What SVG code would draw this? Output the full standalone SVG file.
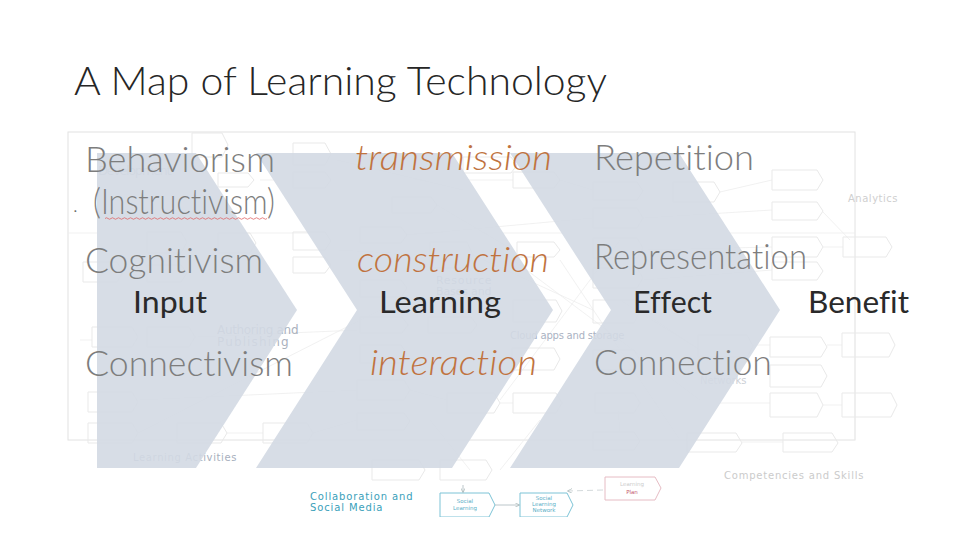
<svg xmlns="http://www.w3.org/2000/svg" width="960" height="540" viewBox="0 0 960 540">
<defs>
<style>
text{font-variant-ligatures:none}
.bx{fill:none;stroke:#e9e9e9;stroke-width:1}
.ln{fill:none;stroke:#ededed;stroke-width:0.8}
.chev{fill:#d3d9e3;opacity:0.9}
.big{font-family:Lato,"Open Sans","Liberation Sans",sans-serif;font-size:36px;font-weight:300}
.gray{fill:#7d7d7d}
.org{fill:#c0733f;font-style:italic}
.lab{font-family:Lato,"Open Sans","Liberation Sans",sans-serif;font-size:30px;fill:#2a2a2a}
.faint{font-family:"DejaVu Sans","Liberation Sans",sans-serif;font-size:10px;letter-spacing:0.5px}
.tiny{font-family:"DejaVu Sans","Liberation Sans",sans-serif;font-size:5.5px;text-anchor:middle}
</style>
<marker id="ah" viewBox="0 0 8 8" refX="7" refY="4" markerWidth="6" markerHeight="6" orient="auto"><path d="M0,0 L8,4 L0,8" fill="none" stroke="#9aa" stroke-width="1"/></marker>
<clipPath id="mapclip"><rect x="60" y="128" width="850" height="389"/></clipPath>
</defs>
<rect width="960" height="540" fill="#ffffff"/>
<g id="title"><text x="74" y="95" font-family="Lato,'Open Sans','Liberation Sans',sans-serif" font-size="40" font-weight="300" fill="#262626" textLength="533" lengthAdjust="spacingAndGlyphs">A Map of Learning Technology</text></g>

<g id="map-background" clip-path="url(#mapclip)">
<rect x="68" y="132" width="787" height="308" fill="none" stroke="#e2e2e2"/>
<line x1="68" y1="233" x2="855" y2="233" class="ln"/>
<g id="map-lines">
<path class="ln" d="M337,160 L463,190 M337,180 L513,180 M260,180 L293,180 M437,205 L513,250 M407,235 L593,218 M560,180 L593,190 M643,190 L673,190 M643,218 L772,210 M720,192 L772,180 M643,250 L772,247 M823,247 L843,247 M823,212 L850,240 M643,280 L772,270 M473,255 L593,310 M500,250 L700,400 M560,260 L680,440 M620,240 L500,400 M195,337 L360,330 M138,400 L360,390 M138,433 L400,300 M227,433 L263,433 M313,433 L357,420 M410,390 L447,400 M500,403 L513,403 M562,403 L595,403 M640,403 L770,403 M640,440 L687,440 M742,442 L783,442 M823,405 L842,405 M618,410 L620,432 M430,420 L470,470 M540,420 L500,470 M700,350 L620,300 M753,345 L770,345 M827,345 L842,345 M855,280 L855,440 M640,310 L700,350 M337,250 L430,255 M408,325 L428,325 M92,340 L80,340"/>
</g>
<g id="map-boxes">
<path class="bx" d="M192,133 h30 l6,12 l-6,12 h-30 z"/>
<path class="bx" d="M293,143 h32 l6,11 l-6,11 h-32 z"/>
<path class="bx" d="M293,172 h32 l6,8 l-6,8 h-32 z"/>
<path class="bx" d="M218,173 h30 l6,7 l-6,7 h-30 z"/>
<path class="bx" d="M147,232 h34 l6,10 l-6,11 h-34 z"/>
<path class="bx" d="M218,233 h32 l6,10 l-6,10 h-32 z"/>
<path class="bx" d="M293,232 h32 l6,9 l-6,9 h-32 z"/>
<path class="bx" d="M147,265 h34 l6,8 l-6,9 h-34 z"/>
<path class="bx" d="M293,257 h32 l6,8 l-6,8 h-32 z"/>
<path class="bx" d="M83,262 h34 l6,10 l-6,10 h-34 z"/>
<path class="bx" d="M392,197 h39 l6,8 l-6,8 h-39 z"/>
<path class="bx" d="M360,227 h41 l6,8 l-6,8 h-41 z"/>
<path class="bx" d="M513,172 h41 l6,8 l-6,8 h-41 z"/>
<path class="bx" d="M517,242 h37 l6,8 l-6,7 h-37 z"/>
<path class="bx" d="M430,242 h37 l6,13 l-6,13 h-37 z"/>
<path class="bx" d="M463,157 h48 l6,8 l-6,8 h-48 z"/>
<path class="bx" d="M593,182 h44 l6,9 l-6,9 h-44 z"/>
<path class="bx" d="M593,208 h44 l6,10 l-6,10 h-44 z"/>
<path class="bx" d="M593,238 h44 l6,10 l-6,10 h-44 z"/>
<path class="bx" d="M593,268 h44 l6,10 l-6,10 h-44 z"/>
<path class="bx" d="M673,182 h41 l6,10 l-6,10 h-41 z"/>
<path class="bx" d="M772,170 h45 l6,10 l-6,10 h-45 z"/>
<path class="bx" d="M772,202 h45 l6,9 l-6,9 h-45 z"/>
<path class="bx" d="M772,237 h45 l6,10 l-6,10 h-45 z"/>
<path class="bx" d="M843,237 h43 l6,10 l-6,10 h-43 z"/>
<path class="bx" d="M772,262 h45 l6,9 l-6,9 h-45 z"/>
<path class="bx" d="M92,327 h40 l6,10 l-6,10 h-40 z"/>
<path class="bx" d="M147,327 h42 l6,10 l-6,10 h-42 z"/>
<path class="bx" d="M88,392 h44 l6,10 l-6,10 h-44 z"/>
<path class="bx" d="M88,423 h44 l6,10 l-6,10 h-44 z"/>
<path class="bx" d="M177,423 h44 l6,10 l-6,10 h-44 z"/>
<path class="bx" d="M263,423 h44 l6,10 l-6,10 h-44 z"/>
<path class="bx" d="M360,280 h41 l6,8 l-6,9 h-41 z"/>
<path class="bx" d="M360,317 h42 l6,8 l-6,8 h-42 z"/>
<path class="bx" d="M428,317 h43 l6,8 l-6,8 h-43 z"/>
<path class="bx" d="M360,345 h41 l6,9 l-6,9 h-41 z"/>
<path class="bx" d="M357,380 h47 l6,10 l-6,10 h-47 z"/>
<path class="bx" d="M357,413 h47 l6,8 l-6,9 h-47 z"/>
<path class="bx" d="M447,393 h47 l6,10 l-6,10 h-47 z"/>
<path class="bx" d="M513,300 h43 l6,11 l-6,11 h-43 z"/>
<path class="bx" d="M512,348 h42 l6,11 l-6,11 h-42 z"/>
<path class="bx" d="M513,393 h43 l6,10 l-6,10 h-43 z"/>
<path class="bx" d="M593,300 h41 l6,11 l-6,12 h-41 z"/>
<path class="bx" d="M593,350 h41 l6,10 l-6,10 h-41 z"/>
<path class="bx" d="M595,393 h39 l6,10 l-6,10 h-39 z"/>
<path class="bx" d="M593,432 h41 l6,9 l-6,9 h-41 z"/>
<path class="bx" d="M372,460 h47 l6,10 l-6,10 h-47 z"/>
<path class="bx" d="M440,460 h46 l6,10 l-6,10 h-46 z"/>
<path class="bx" d="M698,335 h49 l6,11 l-6,11 h-49 z"/>
<path class="bx" d="M770,337 h51 l6,10 l-6,10 h-51 z"/>
<path class="bx" d="M842,333 h47 l6,12 l-6,12 h-47 z"/>
<path class="bx" d="M770,365 h51 l6,11 l-6,11 h-51 z"/>
<path class="bx" d="M770,393 h47 l6,12 l-6,12 h-47 z"/>
<path class="bx" d="M842,393 h49 l6,12 l-6,12 h-49 z"/>
<path class="bx" d="M687,433 h49 l6,10 l-6,9 h-49 z"/>
<path class="bx" d="M783,433 h49 l6,10 l-6,9 h-49 z"/>
</g>
<g id="map-labels" class="faint">
<text x="98" y="175" fill="#c4c9d2" font-size="13" textLength="74">Development</text>
<text x="848" y="202" fill="#cfcfcf" font-size="10" textLength="50">Analytics</text>
<text x="217" y="334" fill="#aab1bd" font-size="12" textLength="82">Authoring and</text>
<text x="217" y="346" fill="#aab1bd" font-size="12" textLength="72">Publishing</text>
<text x="436" y="284" fill="#b3bbca" font-size="11" textLength="56">Resource</text>
<text x="436" y="295" fill="#b3bbca" font-size="11" textLength="56">Bases and</text>
<text x="510" y="339" fill="#aab2c2" textLength="115">Cloud apps and storage</text>
<text x="700" y="384" fill="#cdd0d6" textLength="47">Networks</text>
<text x="133" y="461" fill="#a7afbd" textLength="104">Learning Activities</text>
<text x="724" y="479" fill="#cbcbcb" textLength="140">Competencies and Skills</text>
</g>
</g>

<g id="chevrons">
<path id="chevron-input" class="chev" d="M97,153 H196 L297,310 L196,468 H97 Z"/>
<path id="chevron-learning" class="chev" d="M256,153 H452 L553,310 L452,468 H256 L357,310 Z"/>
<path id="chevron-effect" class="chev" d="M510,153 H679 L780,310 L679,468 H510 L611,310 Z"/>
</g>

<g id="collab-section" clip-path="url(#mapclip)">
<text x="310" y="500" class="faint" fill="#3a9fba" font-size="10.5" textLength="103">Collaboration and</text>
<text x="310" y="511" class="faint" fill="#3a9fba" font-size="10.5" textLength="73">Social Media</text>
<g id="social-learning">
<path d="M440,493 h49 l6,12 l-6,12 h-49 z" fill="#ffffff" stroke="#7cc3d6" stroke-width="1"/>
<text x="465" y="503" class="tiny" fill="#5aaec6">Social</text>
<text x="465" y="510" class="tiny" fill="#5aaec6">Learning</text>
</g>
<g id="social-learning-network">
<path d="M520,493 h47 l6,12 l-6,12 h-47 z" fill="#ffffff" stroke="#7cc3d6" stroke-width="1"/>
<text x="544" y="500" class="tiny" fill="#5aaec6">Social</text>
<text x="544" y="506" class="tiny" fill="#5aaec6">Learning</text>
<text x="544" y="512" class="tiny" fill="#5aaec6">Network</text>
</g>
<g id="learning-plan">
<path d="M605,477 h50 l6,11 l-6,12 h-50 z" fill="#ffffff" stroke="#e6bcc4" stroke-width="1"/>
<text x="632" y="486" class="tiny" fill="#cccccc">Learning</text>
<text x="632" y="494" class="tiny" fill="#c45a72">Plan</text>
</g>
<g id="collab-connectors">
<line x1="495" y1="505" x2="519" y2="505" stroke="#a9b8bd" stroke-width="0.8" marker-end="url(#ah)"/>
<line x1="463" y1="485" x2="463" y2="492" stroke="#a9b8bd" stroke-width="0.8" marker-end="url(#ah)"/>
<line x1="603" y1="490" x2="568" y2="491" stroke="#c8cfd2" stroke-width="0.8" stroke-dasharray="6,4" marker-end="url(#ah)"/>
</g>
</g>

<g id="row-behaviorism" class="big gray">
<text x="85" y="172" textLength="190" lengthAdjust="spacingAndGlyphs">Behaviorism</text>
<text x="73" y="212" font-size="20" fill="#666">.</text>
<text x="93" y="214" textLength="182" lengthAdjust="spacingAndGlyphs">(Instructivism)</text>
<path d="M105,218.5 q1.5,-1.5 3,0 t3,0 t3,0 t3,0 t3,0 t3,0 t3,0 t3,0 t3,0 t3,0 t3,0 t3,0 t3,0 t3,0 t3,0 t3,0 t3,0 t3,0 t3,0 t3,0 t3,0 t3,0 t3,0 t3,0 t3,0 t3,0 t3,0 t3,0 t3,0 t3,0 t3,0 t3,0 t3,0 t3,0 t3,0 t3,0 t3,0 t3,0 t3,0 t3,0 t3,0 t3,0 t3,0 t3,0 t3,0 t3,0 t3,0 t3,0 t3,0 t3,0 t3,0 t3,0 t3,0 t3,0" fill="none" stroke="#e06666" stroke-width="0.8"/>
</g>
<g id="row-cognitivism" class="big gray"><text x="85" y="273" textLength="178" lengthAdjust="spacingAndGlyphs">Cognitivism</text></g>
<g id="row-connectivism" class="big gray"><text x="85" y="376" textLength="208" lengthAdjust="spacingAndGlyphs">Connectivism</text></g>
<g id="mode-transmission" class="big org"><text x="355" y="170" textLength="197" lengthAdjust="spacingAndGlyphs">transmission</text></g>
<g id="mode-construction" class="big org"><text x="357" y="272" textLength="192" lengthAdjust="spacingAndGlyphs">construction</text></g>
<g id="mode-interaction" class="big org"><text x="370" y="375" textLength="167" lengthAdjust="spacingAndGlyphs">interaction</text></g>
<g id="res-repetition" class="big gray"><text x="594" y="170" textLength="160" lengthAdjust="spacingAndGlyphs">Repetition</text></g>
<g id="res-representation" class="big gray"><text x="594" y="269" textLength="213" lengthAdjust="spacingAndGlyphs">Representation</text></g>
<g id="res-connection" class="big gray"><text x="594" y="375" textLength="178" lengthAdjust="spacingAndGlyphs">Connection</text></g>

<g id="stage-input" class="lab"><text x="133" y="313" textLength="74" lengthAdjust="spacingAndGlyphs">Input</text></g>
<g id="stage-learning" class="lab"><text x="379" y="313" textLength="122" lengthAdjust="spacingAndGlyphs">Learning</text></g>
<g id="stage-effect" class="lab"><text x="633" y="313" textLength="79" lengthAdjust="spacingAndGlyphs">Effect</text></g>
<g id="stage-benefit" class="lab"><text x="808" y="313" textLength="101" lengthAdjust="spacingAndGlyphs">Benefit</text></g>
</svg>
